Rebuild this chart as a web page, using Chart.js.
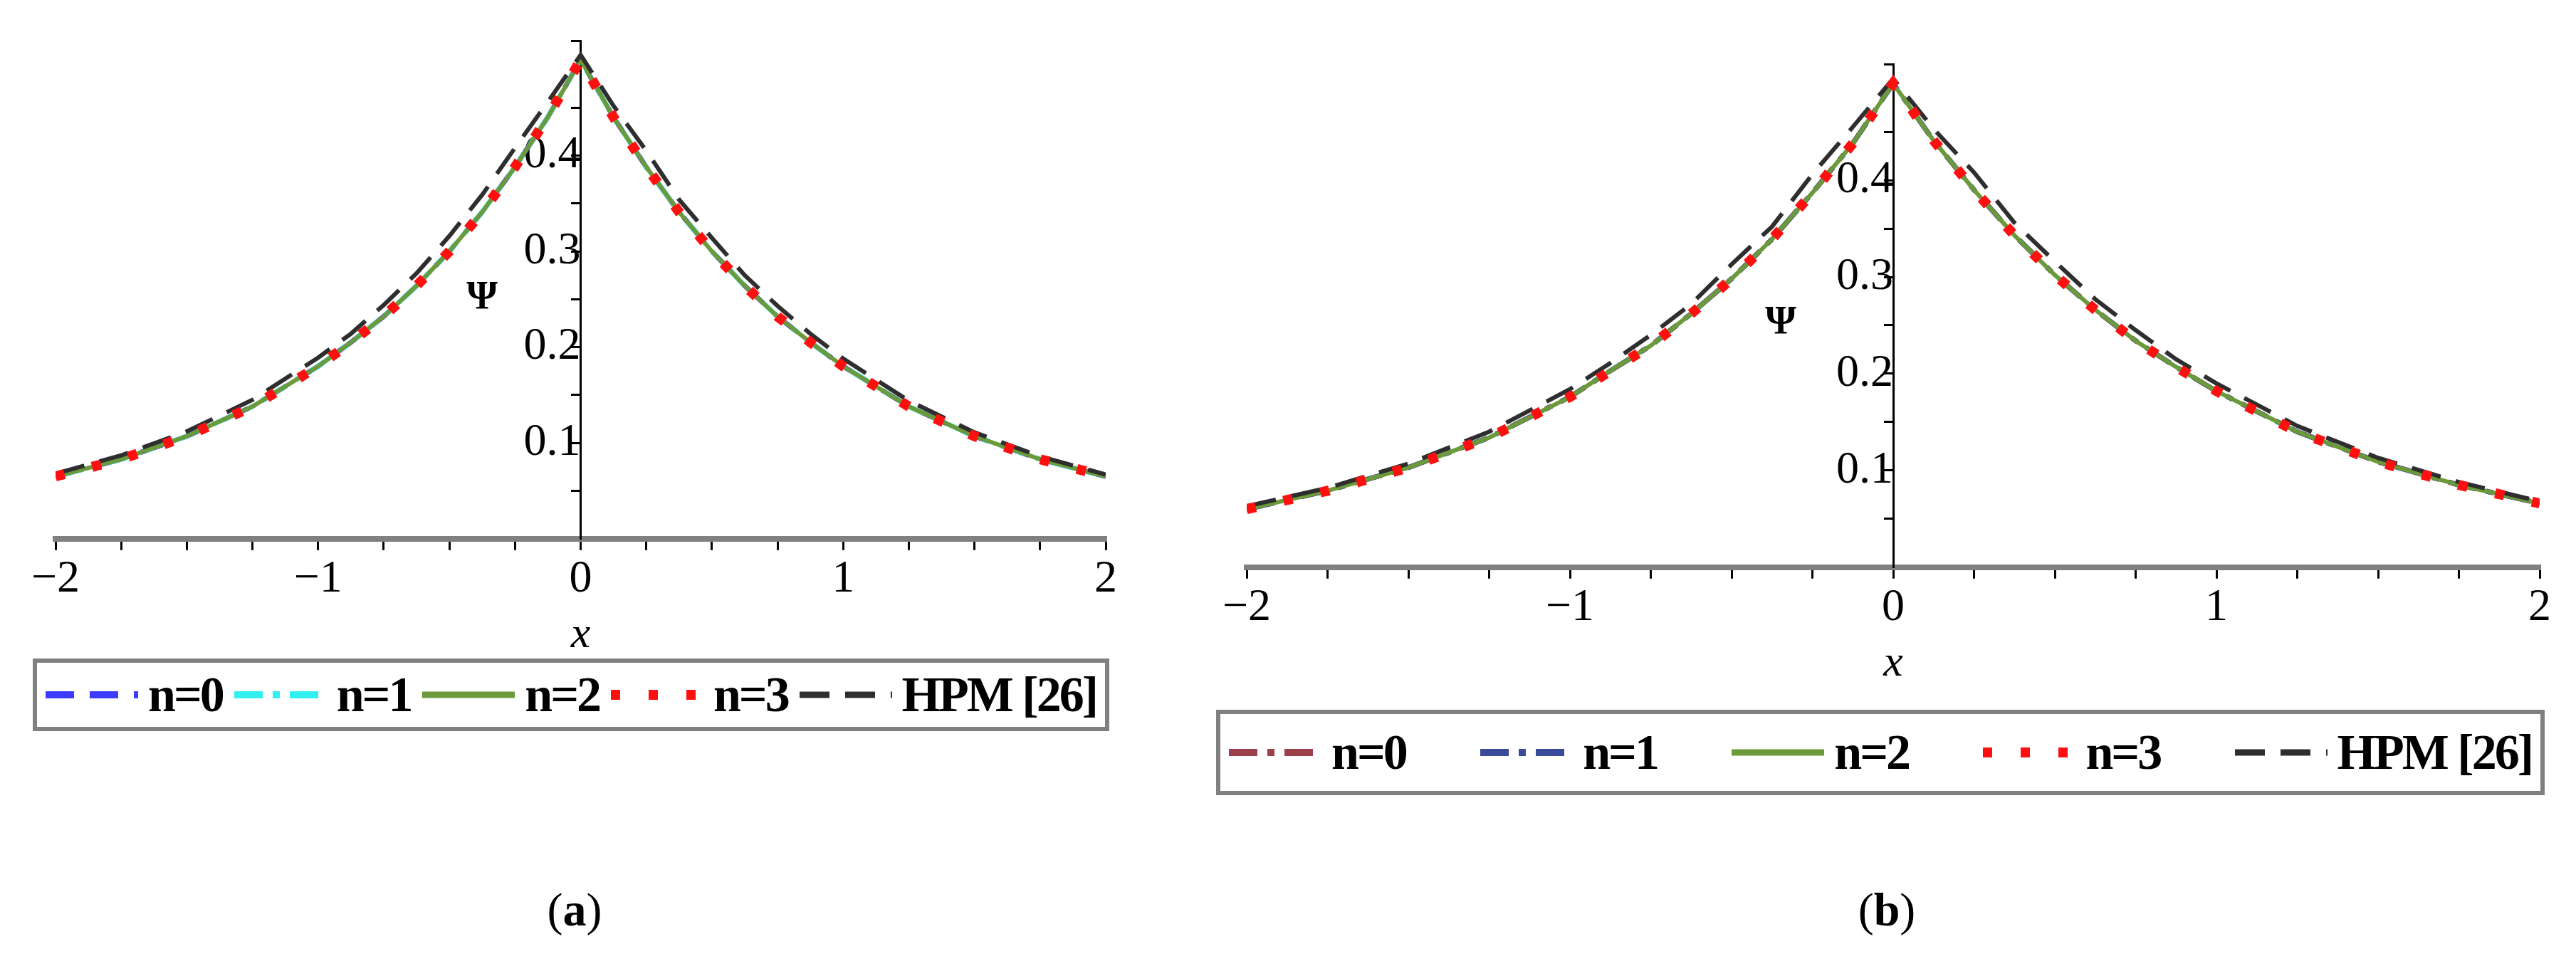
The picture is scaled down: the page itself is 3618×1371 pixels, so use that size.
<!DOCTYPE html>
<html><head><meta charset="utf-8">
<script src="https://cdn.jsdelivr.net/npm/chart.js@4"></script>
<style>
body{margin:0;background:#fff;width:3618px;height:1371px;position:relative;overflow:hidden;font-family:"Liberation Serif","DejaVu Serif",serif}
.wrap{position:absolute}
.legend{position:absolute;border:6px solid #808080;display:flex;align-items:center;justify-content:space-between;box-sizing:border-box;padding:0 12px}
.item{display:flex;align-items:center;font-family:"Liberation Serif",serif;font-weight:bold;font-size:70px;white-space:nowrap;letter-spacing:-3px}
.item svg{margin-right:14px}
.cap{position:absolute;font-size:66px;transform:translateX(-50%)}
.psi{position:absolute;font-size:56px;font-weight:bold;transform:translate(-50%,-50%)}
</style></head><body>
<div class="wrap" style="left:0;top:0;width:1650px;height:930px"><canvas id="ca"></canvas></div>
<div class="wrap" style="left:1660px;top:0;width:1958px;height:970px"><canvas id="cb"></canvas></div>
<div class="psi" style="left:677px;top:415px">&Psi;</div>
<div class="psi" style="left:2501px;top:450px">&Psi;</div>
<div class="legend" id="la" style="left:46px;top:925px;width:1512px;height:102px"></div>
<div class="legend" id="lb" style="left:1708px;top:997px;width:1866px;height:120px"></div>
<div class="cap" style="left:807px;top:1240px">(<b>a</b>)</div>
<div class="cap" style="left:2650px;top:1240px">(<b>b</b>)</div>
<script>
const xs = [-2, -1.75, -1.5, -1.25, -1, -0.875, -0.75, -0.625, -0.5, -0.375, -0.25, -0.125, 0,
  0.125, 0.25, 0.375, 0.5, 0.625, 0.75, 0.875, 1, 1.25, 1.5, 1.75, 2];
const psiA = [0.065, 0.083, 0.107, 0.138, 0.180, 0.205, 0.232, 0.264, 0.300, 0.341, 0.388, 0.440, 0.500,
  0.440, 0.388, 0.341, 0.300, 0.264, 0.232, 0.205, 0.180, 0.138, 0.107, 0.083, 0.065];
const hpmA = [0.068, 0.087, 0.112, 0.145, 0.189, 0.214, 0.244, 0.277, 0.316, 0.359, 0.408, 0.456, 0.505,
  0.452, 0.405, 0.354, 0.314, 0.275, 0.243, 0.214, 0.188, 0.144, 0.111, 0.086, 0.067];
const psiB = [0.060, 0.079, 0.103, 0.134, 0.176, 0.203, 0.229, 0.262, 0.298, 0.339, 0.387, 0.438, 0.500,
  0.441, 0.390, 0.343, 0.302, 0.266, 0.234, 0.207, 0.182, 0.140, 0.109, 0.085, 0.066];
const hpmB = [0.063, 0.082, 0.107, 0.140, 0.184, 0.211, 0.240, 0.272, 0.313, 0.352, 0.406, 0.455, 0.505,
  0.453, 0.408, 0.356, 0.316, 0.277, 0.245, 0.215, 0.190, 0.146, 0.113, 0.088, 0.068];
const yTicks = [0.1, 0.2, 0.3, 0.4, 0.5];
const labels = ["n=0", "n=1", "n=2", "n=3", "HPM [26]"];

const styleA = [
  { color: "#3c3cff", dash: [40, 22], w: 7 },
  { color: "#33f0f0", dash: [40, 14, 10, 14], w: 7 },
  { color: "#6b9a3a", dash: [], w: 6 },
  { color: "#ff1010", dash: [13, 40], w: 14 },
  { color: "#2e2e2e", dash: [42, 22], w: 6 },
];
const styleB = [
  { color: "#9b3f4a", dash: [40, 14, 10, 14], w: 7 },
  { color: "#3a4a9a", dash: [40, 14, 10, 14], w: 7 },
  styleA[2], styleA[3], styleA[4],
];

function pts(vals) { return xs.map((x, i) => ({ x, y: vals[i] })); }

function makeChart(id, psi, hpm, styles, pad) {
  const series = [psi, psi, psi, psi, hpm];
  const order = [4, 3, 2, 0, 1];
  new Chart(document.getElementById(id), {
    type: "line",
    data: {
      datasets: series.map((v, i) => ({
        label: labels[i], data: pts(v), borderColor: styles[i].color, borderDash: styles[i].dash,
        borderWidth: styles[i].w, pointRadius: 0, tension: 0, order: order[i],
        borderCapStyle: "butt",
      })),
    },
    options: {
      responsive: true, maintainAspectRatio: false, animation: false,
      layout: { padding: pad },
      plugins: { legend: { display: false }, tooltip: { enabled: false } },
      scales: {
        x: {
          type: "linear", min: -2, max: 2,
          border: { color: "#808080", width: 8 },
          grid: { drawOnChartArea: false, color: "#000", tickLength: 16, lineWidth: 3 },
          ticks: { stepSize: 0.25, autoSkip: false, maxRotation: 0, color: "#000", font: { family: "Liberation Serif", size: 64 },
            callback: (v) => Number.isInteger(v) ? (v < 0 ? "\u2212" + (-v) : String(v)) : "" },
          title: { display: true, text: "x", color: "#000", font: { family: "Liberation Serif", size: 62, style: "italic" }, padding: 0 },
        },
        y: {
          type: "linear", min: 0, max: 0.52, position: { x: 0 },
          border: { color: "#000", width: 3 },
          grid: { drawOnChartArea: false, color: "#000", tickLength: 12, lineWidth: 3 },
          ticks: { stepSize: 0.05, autoSkip: false, color: "#000", font: { family: "Liberation Serif", size: 64 },
            callback: (v) => yTicks.some((t) => Math.abs(t - v) < 1e-6) ? v.toFixed(1) : "" },
        },
      },
    },
  });
}

makeChart("ca", psiA, hpmA, styleA, { left: 78, right: 97, top: 57, bottom: 0 });
makeChart("cb", psiB, hpmB, styleB, { left: 91, right: 51, top: 90, bottom: 0 });

function legend(id, styles) {
  const el = document.getElementById(id);
  styles.forEach((s, i) => {
    const d = document.createElement("div");
    d.className = "item";
    d.innerHTML = `<svg width="130" height="20"><line x1="0" y1="10" x2="130" y2="10" stroke="${s.color}" stroke-width="${Math.min(s.w + 3, 14)}" stroke-dasharray="${s.dash.join(" ")}"/></svg>${labels[i]}`;
    el.appendChild(d);
  });
}
legend("la", styleA);
legend("lb", styleB);
</script></body></html>
